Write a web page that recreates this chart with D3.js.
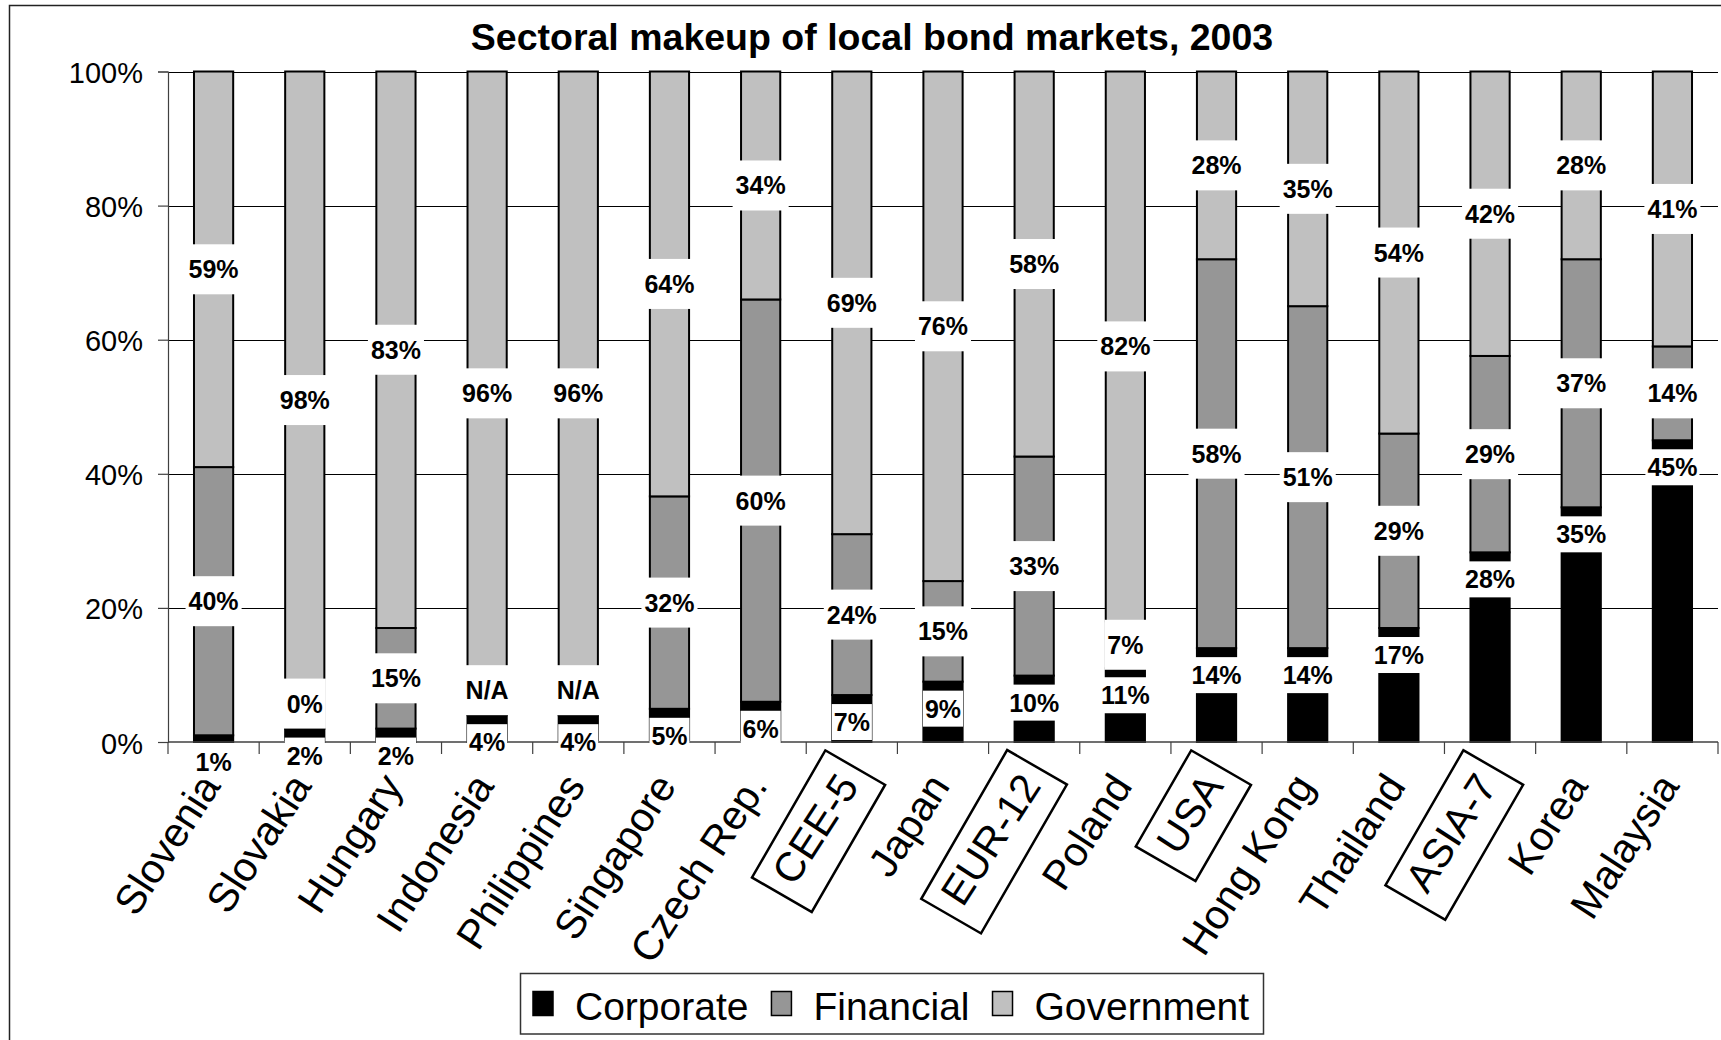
<!DOCTYPE html>
<html>
<head>
<meta charset="utf-8">
<script src="https://cdn.jsdelivr.net/npm/d3@7"></script>
<style>
  html, body { margin: 0; padding: 0; background: #fff; }
  svg { display: block; }
  text { font-family: "Liberation Sans", Arial, sans-serif; }
</style>
</head>
<body>
<svg id="chart" width="1721" height="1040"></svg>
<script>
// Sectoral makeup of local bond markets, 2003 (shares, in percent)
const categories = ["Slovenia", "Slovakia", "Hungary", "Indonesia", "Philippines", "Singapore",
  "Czech Rep.", "CEE-5", "Japan", "EUR-12", "Poland", "USA", "Hong Kong", "Thailand",
  "ASIA-7", "Korea", "Malaysia"];
const corporate  = [1, 2, 2, 4, 4, 5, 6, 7, 9, 10, 11, 14, 14, 17, 28, 35, 45];
const financial  = [40, 0, 15, null, null, 32, 60, 24, 15, 33, 7, 58, 51, 29, 29, 37, 14];
const government = [59, 98, 83, 96, 96, 64, 34, 69, 76, 58, 82, 28, 35, 54, 42, 28, 41];
const aggregates = ["CEE-5", "EUR-12", "USA", "ASIA-7"];
const seriesNames = ["Corporate", "Financial", "Government"];
const yTicks = [0, 0.2, 0.4, 0.6, 0.8, 1.0];
const titleText = "Sectoral makeup of local bond markets, 2003";

const seriesValues = [corporate, financial, government];
const fills = ["#000000", "#969696", "#c0c0c0"];
const FONT = '"Liberation Sans", Arial, sans-serif';

const svg = d3.select("#chart");

// table for the stack layout
const rows = categories.map((c, i) => {
  const r = { category: c };
  seriesNames.forEach((s, k) => { r[s] = seriesValues[k][i]; });
  return r;
});
const stacked = d3.stack()
  .keys(seriesNames)
  .value((d, key) => d[key] == null ? 0 : d[key])
  .offset(d3.stackOffsetExpand)(rows);

const plot = { left: 168, right: 1718, top: 71.5, bottom: 742 };

const x = d3.scaleBand()
  .domain(categories)
  .range([plot.left, plot.right])
  .paddingInner(0.57)
  .paddingOuter(0.285);
const y = d3.scaleLinear().domain([0, 1]).range([plot.bottom, plot.top]);

// outer chart frame
svg.append("rect")
  .attr("x", 9.5).attr("y", 5.5)
  .attr("width", 1760).attr("height", 1080)
  .attr("fill", "none").attr("stroke", "#222").attr("stroke-width", 1.5);

// title
svg.append("text")
  .attr("x", 872).attr("y", 50)
  .attr("text-anchor", "middle")
  .attr("font-size", 37.5).attr("font-weight", "bold")
  .attr("fill", "#000")
  .text(titleText);

// horizontal gridlines
svg.append("g").selectAll("line")
  .data(yTicks.filter(t => t > 0))
  .join("line")
  .attr("x1", plot.left).attr("x2", plot.right)
  .attr("y1", d => Math.round(y(d)) + 0.5).attr("y2", d => Math.round(y(d)) + 0.5)
  .attr("stroke", "#000").attr("stroke-width", 1.2);

// stacked bars
svg.append("g").selectAll("g")
  .data(stacked)
  .join("g")
  .attr("fill", (d, k) => fills[k])
  .selectAll("rect")
  .data(d => d)
  .join("rect")
  .attr("x", d => x(d.data.category))
  .attr("width", x.bandwidth())
  .attr("y", d => y(d[1]))
  .attr("height", d => Math.max(0, y(d[0]) - y(d[1])))
  .attr("stroke", "#000")
  .attr("stroke-width", 2);

// y axis
const yAxis = svg.append("g")
  .attr("transform", `translate(${plot.left},0)`)
  .call(d3.axisLeft(y).tickValues(yTicks).tickFormat(d3.format(".0%")).tickSize(10).tickPadding(15));
yAxis.select(".domain").attr("stroke", "#404040").attr("stroke-width", 1.2);
yAxis.selectAll(".tick line").attr("stroke", "#404040").attr("stroke-width", 1.2);
yAxis.selectAll(".tick text")
  .attr("font-family", FONT).attr("font-size", 29).attr("fill", "#000")
  .attr("dy", null).attr("y", 11);

// x axis line with boundary ticks between categories
const xAxis = svg.append("g");
xAxis.append("line")
  .attr("x1", plot.left).attr("x2", plot.right)
  .attr("y1", plot.bottom).attr("y2", plot.bottom)
  .attr("stroke", "#404040").attr("stroke-width", 1.5);
xAxis.selectAll("line.tk")
  .data(d3.range(categories.length + 1))
  .join("line")
  .attr("class", "tk")
  .attr("x1", i => plot.left + i * x.step()).attr("x2", i => plot.left + i * x.step())
  .attr("y1", plot.bottom).attr("y2", plot.bottom + 12)
  .attr("stroke", "#404040").attr("stroke-width", 1.2);

// rotated category labels; aggregates get a hand-drawn style frame
const ANGLE = -57;
const FRAME_TILT = -3;
const catG = svg.append("g").selectAll("g")
  .data(categories)
  .join("g")
  .attr("transform", d => `translate(${x(d) + x.bandwidth() / 2 + 8},${plot.bottom + 44}) rotate(${ANGLE})`);
catG.append("text")
  .attr("text-anchor", "end")
  .attr("font-size", 41)
  .attr("fill", "#000")
  .text(d => d);
catG.filter(d => aggregates.includes(d)).each(function () {
  const g = d3.select(this);
  const b = g.select("text").node().getBBox();
  const w = b.width + 26, h = 69;
  g.insert("g", "text")
    .attr("transform", `translate(${b.x + b.width / 2},${b.y + b.height / 2 + 4}) rotate(${FRAME_TILT})`)
    .append("rect")
    .attr("x", -w / 2).attr("y", -h / 2)
    .attr("width", w).attr("height", h)
    .attr("fill", "none").attr("stroke", "#000").attr("stroke-width", 2.5);
});

// data labels (white boxes), drawn series by series
const labelLayer = svg.append("g");
function drawLabel(cx, cy, str, padX, boxH) {
  const g = labelLayer.append("g");
  const t = g.append("text")
    .attr("x", cx).attr("y", cy + 9)
    .attr("text-anchor", "middle")
    .attr("font-size", 25).attr("font-weight", "bold")
    .attr("fill", "#000")
    .text(str);
  const w = t.node().getComputedTextLength();
  g.insert("rect", "text")
    .attr("x", cx - w / 2 - padX).attr("y", cy - boxH / 2)
    .attr("width", w + 2 * padX).attr("height", boxH)
    .attr("fill", "#fff");
}

stacked.forEach((layer, k) => {
  layer.forEach((seg, i) => {
    const v = seriesValues[k][i];
    const cx = x(categories[i]) + x.bandwidth() / 2;
    const str = v == null ? "N/A" : v + "%";
    let cy;
    if (k === 0) {
      cy = y(seg[1]) + 27;              // inside end of the corporate segment
      drawLabel(cx, cy, str, 2, 36);
    } else {
      if (v == null || v === 0) cy = y(seg[0]) - 25;  // empty segment: label sits just above
      else cy = (y(seg[0]) + y(seg[1])) / 2;          // centred in the segment
      drawLabel(cx, cy, str, 3, 50);
    }
  });
});

// legend
const legend = svg.append("g");
legend.append("rect")
  .attr("x", 520.5).attr("y", 973.5)
  .attr("width", 743).attr("height", 60.5)
  .attr("fill", "#fff").attr("stroke", "#333").attr("stroke-width", 1.5);
let lx = 533;
seriesNames.forEach((s, k) => {
  legend.append("rect")
    .attr("x", lx).attr("y", 991.5)
    .attr("width", 20).attr("height", 24)
    .attr("fill", fills[k]).attr("stroke", "#000").attr("stroke-width", 1.5);
  const t = legend.append("text")
    .attr("x", lx + 42).attr("y", 1020)
    .attr("font-size", 39).attr("fill", "#000")
    .text(s);
  lx = lx + 42 + t.node().getComputedTextLength() + 23;
});
</script>
</body>
</html>
